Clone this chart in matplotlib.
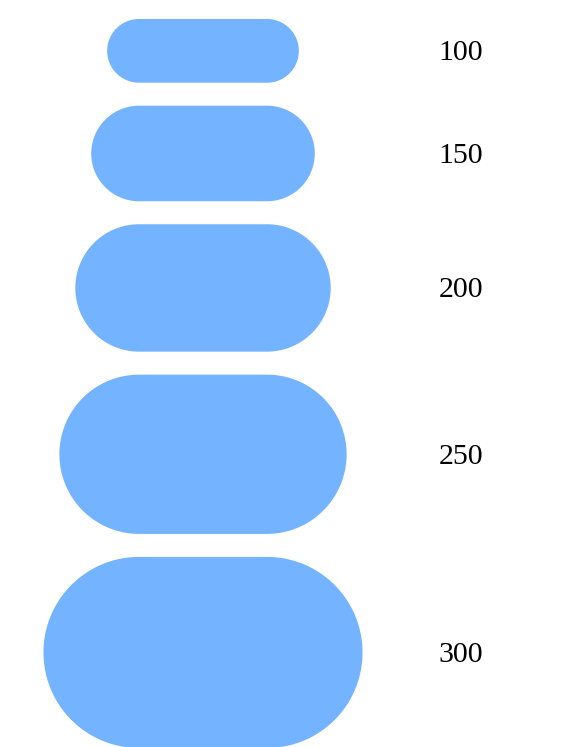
import numpy as np
import matplotlib.pyplot as plt
from matplotlib.patches import Polygon

# Werte der Stufen (oben nach unten)
werte = [100, 150, 200, 250, 300]
beschriftungen = ["100", "150", "200", "250", "300"]

farbe = "#74b3ff"
px_pro_wert = 0.637   # Hoehe der Pille pro Werteinheit (Pixel)
abstand = 23          # Luecke zwischen den Pillen
gerade = 128          # gerader Mittelteil der Pille
mitte_x = 203
label_x = 461
start_y = 19


def pille(cx, cy, h):
    # Stadionform: zwei Halbkreise + Rechteck
    r = h / 2
    t = np.linspace(-np.pi / 2, np.pi / 2, 80)
    rechts = np.column_stack([cx + gerade / 2 + r * np.cos(t), cy + r * np.sin(t)])
    links = np.column_stack([cx - gerade / 2 - r * np.cos(t), cy - r * np.sin(t)])
    return np.vstack([rechts, links])


fig = plt.figure(figsize=(5.7, 7.47), dpi=100)
ax = fig.add_axes([0, 0, 1, 1])
ax.set_xlim(0, 570)
ax.set_ylim(747, 0)
ax.axis("off")

y = start_y
for wert, text in zip(werte, beschriftungen):
    h = wert * px_pro_wert
    cy = y + h / 2
    ax.add_patch(Polygon(pille(mitte_x, cy, h), closed=True,
                         facecolor=farbe, edgecolor="none"))
    ax.text(label_x, cy + 2.5, text, ha="center", va="center",
            fontsize=21.5, family="Liberation Serif", color="black")
    y += h + abstand

fig.savefig("out.png", dpi=100)
